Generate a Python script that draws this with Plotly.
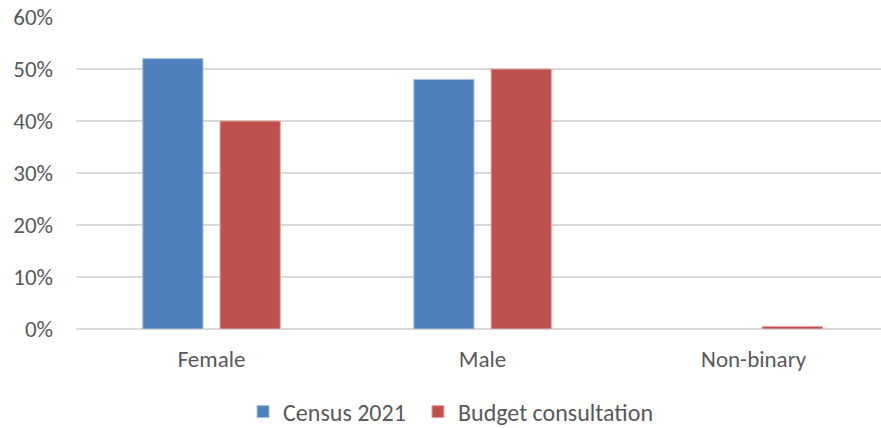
import plotly.graph_objects as go

categories = ["Female", "Male", "Non-binary"]
census_2021 = [0.52, 0.48, 0.0]
budget_consultation = [0.40, 0.50, 0.005]
y_ticks = [0, 0.1, 0.2, 0.3, 0.4, 0.5, 0.6]
y_tick_labels = ["0%", "10%", "20%", "30%", "40%", "50%", "60%"]

font_family = "Carlito, Calibri, 'Open Sans', sans-serif"
txt = "#595959"
fs = 23

fig = go.Figure()
fig.add_trace(go.Bar(x=categories, y=census_2021, name="Census 2021", legend="legend",
                     showlegend=True,
                     marker=dict(color="#4F81BD", line=dict(color="#A9C1E0", width=[1, 1, 0]))))
fig.add_trace(go.Bar(x=categories, y=budget_consultation, name="Budget consultation", legend="legend2",
                     showlegend=True,
                     marker=dict(color="#C0504D", line=dict(color="#E3A9A7", width=1))))

legend_common = dict(orientation="h", xanchor="left", xref="paper",
                     y=0.0374, yanchor="middle", yref="container",
                     font=dict(size=24, color=txt), bgcolor="rgba(0,0,0,0)")

fig.update_layout(
    width=881, height=428,
    margin=dict(l=76, r=0, t=17, b=99),
    plot_bgcolor="white", paper_bgcolor="white",
    showlegend=True,
    barmode="group", bargap=0.43, bargroupgap=0.22,
    font=dict(family=font_family, size=fs, color=txt),
    legend=dict(x=0.2075, visible=True, **legend_common),
    legend2=dict(x=0.4248, visible=True, **legend_common),
    xaxis=dict(range=[-0.5, 2.47], showgrid=False, showline=False, ticks="",
               tickfont=dict(size=fs, color=txt), ticklabelstandoff=14, automargin=False),
    yaxis=dict(range=[0, 0.6], tickvals=y_ticks, ticktext=y_tick_labels,
               showgrid=True, gridcolor="#D9D9D9", gridwidth=1.5,
               zeroline=True, zerolinecolor="#D9D9D9", zerolinewidth=1.5,
               tickfont=dict(size=fs, color=txt), ticklabelstandoff=22,
               ticklabeloverflow="allow", automargin=False),
)

fig.write_html("out.html", config={"displayModeBar": False},
               post_script="document.body.style.margin='0';")
